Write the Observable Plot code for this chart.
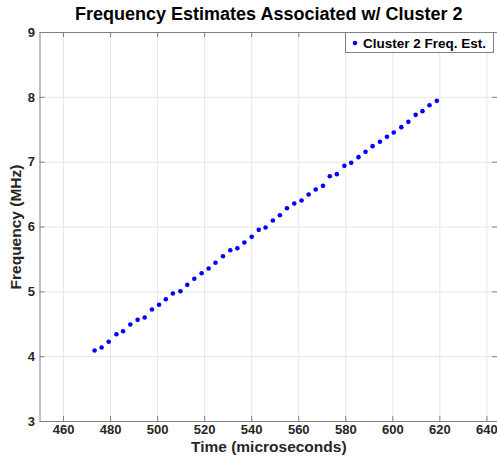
<!DOCTYPE html>
<html>
<head>
<meta charset="utf-8">
<script src="https://cdn.jsdelivr.net/npm/d3@7"></script>
<script src="https://cdn.jsdelivr.net/npm/@observablehq/plot@0.6"></script>
<style>
  html, body { margin: 0; padding: 0; background: #fff; }
  #chart svg { display: block; }
</style>
</head>
<body>
<div id="chart"></div>
<script>
const timeUs = [473.2, 476.2, 479.2, 482.5, 485.3, 488.4, 491.5, 494.5, 497.6, 500.6,
  503.5, 506.5, 509.7, 512.6, 515.6, 518.7, 521.7, 524.6, 527.8, 530.9,
  533.9, 536.9, 540.0, 543.0, 545.9, 549.0, 552.0, 555.0, 558.1, 561.2,
  564.2, 567.2, 570.3, 573.2, 576.2, 579.4, 582.3, 585.4, 588.4, 591.4,
  594.5, 597.5, 600.4, 603.6, 606.6, 609.7, 612.6, 615.6, 618.7];
const freqMHz = [4.095, 4.141, 4.229, 4.346, 4.393, 4.496, 4.568, 4.604, 4.727, 4.800,
  4.886, 4.974, 5.010, 5.108, 5.201, 5.287, 5.360, 5.448, 5.549, 5.642,
  5.673, 5.761, 5.848, 5.956, 5.992, 6.100, 6.182, 6.290, 6.362, 6.409,
  6.501, 6.578, 6.635, 6.782, 6.815, 6.943, 6.990, 7.077, 7.159, 7.247,
  7.314, 7.391, 7.458, 7.540, 7.622, 7.730, 7.787, 7.879, 7.946];
const xTicks = [460, 480, 500, 520, 540, 560, 580, 600, 620, 640];
const yTicks = [3, 4, 5, 6, 7, 8, 9];
const titleText = "Frequency Estimates Associated w/ Cluster 2";
const xLabel = "Time (microseconds)";
const yLabel = "Frequency (MHz)";
const legendLabel = "Cluster 2 Freq. Est.";

const data = timeUs.map((t, i) => ({t, f: freqMHz[i]}));

const W = 497, H = 457;
const mT = 32, mB = 36, mL = 39.5, mR = 0;
const frameH = H - mT - mB;
const frameW = W - mL - mR;
const tickLen = 5;
const font = "'Liberation Sans', Arial, Helvetica, sans-serif";

const chart = Plot.plot({
  width: W,
  height: H,
  marginTop: mT,
  marginBottom: mB,
  marginLeft: mL,
  marginRight: mR,
  style: {fontFamily: font, fontSize: "13px", fontWeight: "bold", color: "#262626", background: "#fff"},
  x: {domain: [450, 644.5]},
  y: {domain: [3, 9]},
  marks: [
    Plot.gridX(xTicks, {stroke: "#e6e6e6", strokeOpacity: 1}),
    Plot.gridY(yTicks, {stroke: "#e6e6e6", strokeOpacity: 1}),
    Plot.tickX(xTicks, {x: d => d, insetTop: frameH - tickLen, stroke: "#808080"}),
    Plot.tickX(xTicks, {x: d => d, insetBottom: frameH - tickLen, stroke: "#808080"}),
    Plot.tickY(yTicks, {y: d => d, insetRight: frameW - tickLen, stroke: "#808080"}),
    Plot.tickY(yTicks, {y: d => d, insetLeft: frameW - tickLen, stroke: "#808080"}),
    Plot.frame({stroke: "#808080"}),
    Plot.axisX(xTicks, {tickSize: 0, tickPadding: 3, fontSize: 13, fontWeight: "bold", fill: "#262626",
      tickFormat: d3.format("d"),
      label: xLabel, labelAnchor: "center", labelArrow: "none", labelOffset: 30}),
    Plot.axisY(yTicks, {tickSize: 0, tickPadding: 5, fontSize: 13, fontWeight: "bold", fill: "#262626",
      tickFormat: d3.format("d"),
      label: yLabel, labelAnchor: "center", labelArrow: "none", labelOffset: 30}),
    Plot.dot(data, {x: "t", y: "f", r: 2.3, fill: "#0000ff", stroke: "none"}),
    Plot.text([titleText], {frameAnchor: "top", dy: -25, fontSize: 18, fontWeight: "bold", fill: "#000", text: d => d})
  ]
});

chart.querySelectorAll("g[aria-label='x-axis label'] text, g[aria-label='y-axis label'] text").forEach(t => {
  t.setAttribute("font-size", "15.5");
  t.setAttribute("font-weight", "bold");
  t.setAttribute("fill", "#262626");
});

// Legend box inside the SVG (top-right)
const ns = "http://www.w3.org/2000/svg";
const lg = document.createElementNS(ns, "g");
lg.setAttribute("aria-label", "legend");
const rect = document.createElementNS(ns, "rect");
rect.setAttribute("x", 345.5); rect.setAttribute("y", 32.5);
rect.setAttribute("width", 148); rect.setAttribute("height", 20);
rect.setAttribute("fill", "#fff"); rect.setAttribute("stroke", "#808080");
lg.appendChild(rect);
const c = document.createElementNS(ns, "circle");
c.setAttribute("cx", 355); c.setAttribute("cy", 43); c.setAttribute("r", 2.3);
c.setAttribute("fill", "#0000ff");
lg.appendChild(c);
const tx = document.createElementNS(ns, "text");
tx.setAttribute("x", 363); tx.setAttribute("y", 47.5);
tx.setAttribute("text-anchor", "start");
tx.setAttribute("font-size", "13.5"); tx.setAttribute("font-weight", "bold");
tx.setAttribute("fill", "#000"); tx.setAttribute("font-family", font);
tx.textContent = legendLabel;
lg.appendChild(tx);
chart.appendChild(lg);

document.getElementById("chart").appendChild(chart);
</script>
</body>
</html>
